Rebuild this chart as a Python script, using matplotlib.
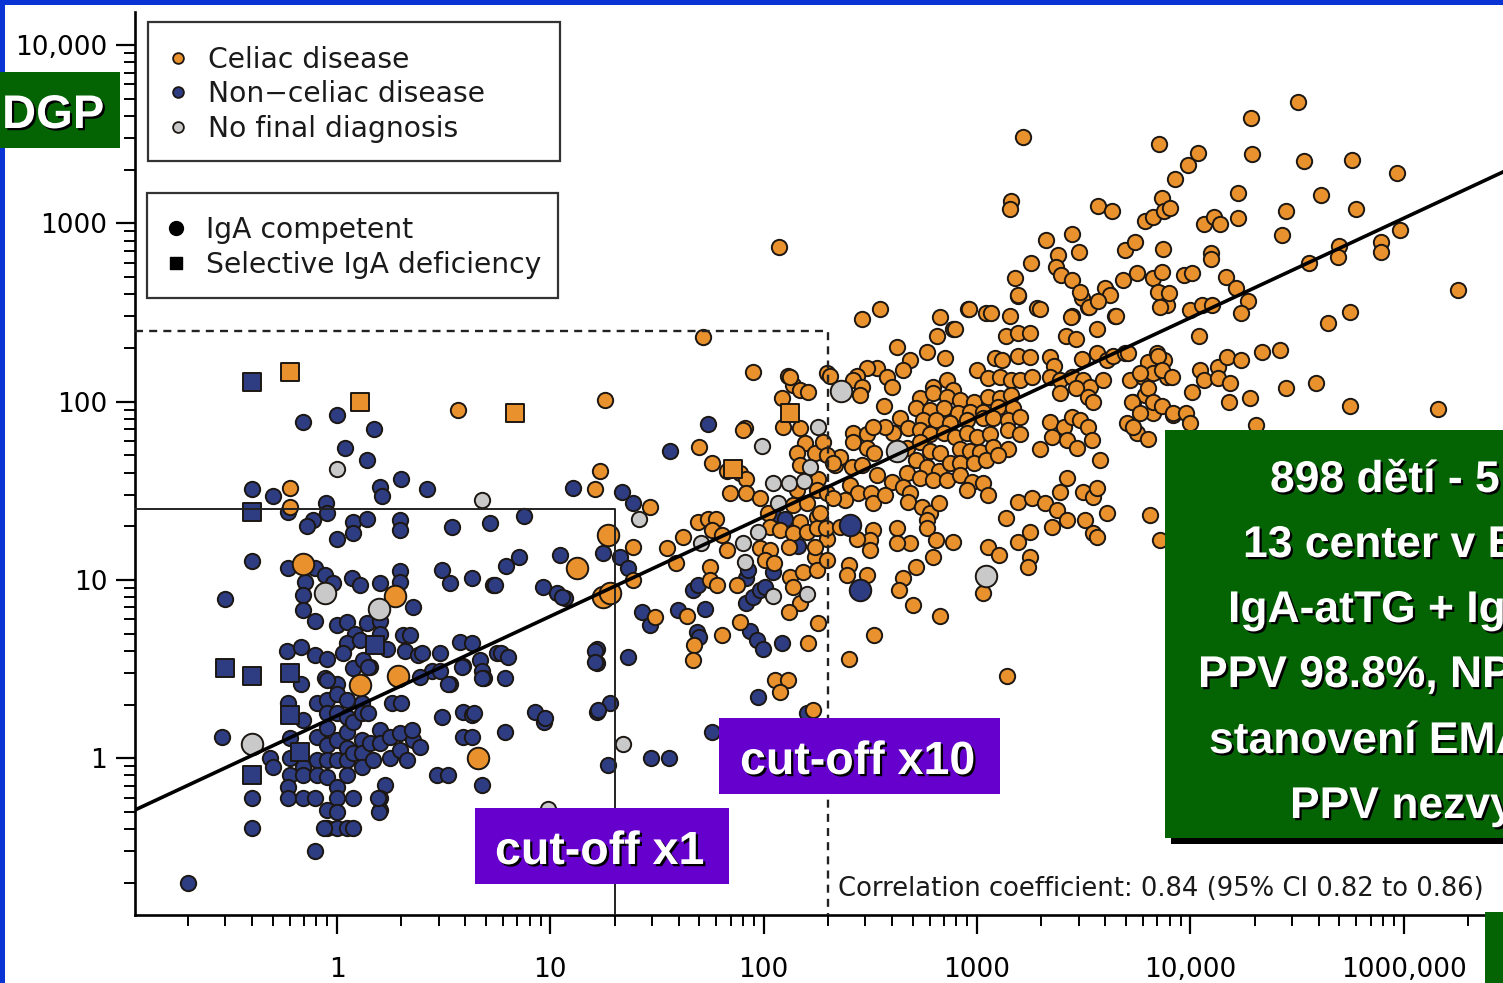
import numpy as np
import matplotlib
matplotlib.use("Agg")
import matplotlib.pyplot as plt
import matplotlib.patheffects as pe
from matplotlib.patches import Rectangle
from matplotlib.ticker import LogLocator, NullFormatter, FixedLocator, FixedFormatter

# ---- data (x = IgA-atTG, y = DGP) ----
celiac = [
    (0.60, 32.8), (0.60, 25.6), (3.7, 90), (18, 102), (52, 230),
    (17, 41), (16.2, 32.4), (29.3, 25.5), (24.5, 15.3), (24.5, 10), (35.2, 15.1), (42, 17.3),
    (39, 12.4), (49, 21), (55, 22), (60, 22), (57.5, 19), (64, 17.8), (67, 14.7), (56, 11.8),
    (56, 10), (60.5, 9.3), (75, 9.3), (50, 55.5), (82, 71), (89, 146), (130, 140), (137, 124),
    (148, 116), (161, 113), (122, 105), (123, 72), (148, 71), (157, 58.5), (190, 51.5),
    (174, 51.5), (217, 44), (143, 51.5), (148, 44), (180, 37), (178, 32), (198, 30.7), (143, 32),
    (137, 26.3), (160, 27), (178, 22.4), (148, 21.1), (105, 23.7), (107, 19.8), (119, 19),
    (137, 18.3), (160, 18.6), (178, 19.5), (198, 17), (96, 15), (107, 14.7), (131, 15.3),
    (101, 12.9), (112, 12.4), (133, 10.4), (153, 11), (174, 13.4), (178, 11.3), (198, 12.9),
    (174, 15.3), (57.5, 45), (67, 41), (77.5, 40), (83, 37), (69.6, 30.7), (83, 30.7), (96, 28.8),
    (137, 9.1), (148, 7.4), (131, 6.6), (180, 5.7), (77.5, 5.8), (64, 4.9), (47, 4.3), (46.5, 3.55),
    (31, 6.2), (43.5, 6.3), (161, 4.4), (113, 2.74), (130, 2.74), (119, 2.34), (170, 1.86),
    (198, 145), (80, 69), (118, 735), (133, 137),
    (290, 290), (351, 330), (671, 298), (773, 255), (905, 330), (1100, 312), (1430, 303),
    (1560, 390), (1900, 333), (2780, 300), (3300, 338), (3660, 255), (4450, 303), (4100, 405),
    (3100, 382), (7200, 405), (7800, 348), (650, 233), (1360, 233), (1560, 243), (1770, 243),
    (2600, 233), (2900, 224), (420, 202), (486, 171), (580, 189), (710, 176), (340, 154),
    (305, 154), (275, 140), (205, 140), (262, 132), (290, 121), (380, 137), (450, 150),
    (400, 121), (283, 109), (365, 95), (620, 120), (720, 132), (773, 116), (1000, 150),
    (1120, 136), (1210, 176), (1310, 171), (1560, 180), (1770, 177), (1280, 137), (1450, 132),
    (1590, 132), (1810, 137), (2200, 177), (2300, 158), (3100, 174), (3660, 187), (4050, 171),
    (4350, 180), (4950, 187), (6300, 167), (7000, 187), (7500, 171), (2200, 137), (2450, 132),
    (2800, 137), (3150, 132), (3390, 121), (3900, 132), (5200, 132), (6000, 137), (6700, 145),
    (7800, 137), (5400, 100), (6100, 109), (7000, 95), (6700, 86), (8300, 84), (541, 105),
    (620, 111), (720, 106), (833, 102), (970, 100), (1120, 106), (1280, 105), (1450, 109),
    (2450, 111), (2900, 119), (3300, 106), (3500, 100), (520, 92), (603, 90), (700, 92),
    (810, 86), (930, 87), (1070, 87), (1250, 93), (1470, 92), (560, 79), (640, 79), (748, 76),
    (900, 79), (1070, 81), (1190, 81), (1390, 79), (1590, 82), (436, 81), (475, 71), (405, 67),
    (370, 72), (262, 67), (305, 66), (325, 72), (541, 69), (603, 66), (700, 67), (790, 63),
    (900, 67), (1000, 63), (1150, 66), (1390, 69), (1590, 66), (2200, 77), (2550, 72),
    (2800, 82), (3050, 79), (3300, 72), (2250, 63), (2650, 61), (2950, 55), (3450, 61),
    (5050, 76), (5600, 67), (6300, 62), (1980, 54), (3780, 47), (262, 59), (305, 55),
    (330, 51.5), (228, 49), (258, 43), (290, 44), (190, 59), (198, 50), (212, 45), (470, 55),
    (541, 59), (603, 53), (671, 51.5), (833, 54.5), (929, 53), (1035, 52), (1190, 55.5),
    (1390, 54.5), (520, 47), (580, 43), (665, 41), (748, 45), (833, 45.5), (970, 45.5),
    (1100, 47), (1260, 50), (470, 39.5), (541, 37.5), (620, 36.3), (720, 36.3), (833, 38.6),
    (950, 35.4), (900, 32), (1070, 35), (1130, 30), (340, 38.6), (400, 35.4), (450, 33),
    (486, 30.6), (475, 27.2), (254, 34), (277, 30.6), (320, 30.6), (325, 27), (370, 29.8),
    (240, 28), (212, 28.8), (184, 23.7), (195, 19.5), (555, 25.5), (603, 23.7), (660, 27),
    (580, 21.6), (580, 19.5), (420, 19.5), (486, 16), (420, 16), (640, 16.7), (770, 16.3),
    (325, 19), (315, 16.7), (315, 14.7), (275, 17), (228, 19.8), (620, 13.4), (520, 11.8),
    (450, 10.2), (430, 8.75), (305, 10.6), (250, 12.1), (245, 10.6), (500, 7.2), (671, 6.3),
    (330, 4.9), (250, 3.6), (1380, 2.9), (1130, 15.3), (1270, 13.8), (1070, 8.4), (1560, 16.3),
    (1770, 18.6), (1770, 13.4), (1740, 11.8), (1360, 22.2), (1560, 27.2), (1810, 28.8),
    (2080, 27), (2380, 24.6), (2250, 19.8), (2650, 21.6), (3200, 21.6), (2450, 31), (2650, 37.5),
    (3150, 31), (3500, 29), (3660, 32.6), (4050, 23.7), (3500, 18.3), (6480, 23.2), (3660, 17.3),
    (7200, 16.7),
    (1650, 3050), (7100, 2800), (10800, 2490), (9700, 2120), (8500, 1770), (19300, 3880),
    (31800, 4800), (19500, 2450), (34000, 2240), (57000, 2260), (93000, 1920), (1450, 1340),
    (1420, 1200), (3700, 1250), (4300, 1170), (6100, 1030), (6650, 1090), (7400, 1380),
    (7550, 1170), (8050, 1210), (11600, 990), (12900, 1090), (13800, 990), (16800, 1480),
    (16800, 1070), (28000, 1170), (27000, 860), (41000, 1440), (60000, 1200), (96000, 915),
    (78000, 780), (78000, 690), (50000, 750), (49000, 645), (36000, 600), (180000, 425),
    (2100, 805), (2780, 865), (3000, 690), (2400, 660), (2350, 570), (2480, 515), (2780, 480),
    (3050, 410), (1800, 600), (1500, 495), (1550, 395), (915, 330), (1160, 312), (1980, 330),
    (4950, 705), (5500, 780), (7450, 715), (12500, 680), (12500, 630), (4000, 435), (4200, 395),
    (4850, 480), (5650, 525), (6700, 490), (7400, 530), (7050, 410), (7200, 340), (7950, 405),
    (9300, 510), (10200, 525), (14700, 500), (16400, 435), (18600, 365), (17200, 315),
    (10000, 328), (11300, 350), (12600, 350), (3350, 338), (3700, 365), (2750, 298), (4500, 303),
    (790, 255), (11000, 234), (44000, 275), (56000, 318), (21600, 190), (26400, 194),
    (28000, 119), (39000, 127), (56000, 94), (144000, 91), (19100, 105), (15200, 100),
    (20300, 74), (5100, 187), (7050, 180), (7400, 150), (8200, 137), (11100, 150), (11600, 132),
    (13500, 156), (14800, 177), (17200, 172), (10200, 113), (13500, 135), (15300, 127),
    (5800, 145), (6300, 119), (6650, 100), (7400, 94), (5300, 99), (5800, 86), (8300, 86),
    (9500, 86), (10000, 76), (5400, 72),
]
celiac_large = [(0.69, 12.3), (1.87, 8.1), (1.28, 2.57), (1.93, 2.9), (4.6, 1.0),
                (13.3, 11.6), (18.6, 17.8), (17.7, 8.0), (19, 8.4)]

non_celiac = [
    (0.69, 77), (1.0, 84), (1.49, 70), (1.09, 55), (1.38, 47), (0.40, 32.5), (0.50, 29.5),
    (0.89, 27), (1.59, 33), (1.62, 29.5), (1.99, 37), (2.64, 32.4), (0.59, 24), (0.77, 21.6),
    (0.72, 20), (0.90, 23.7), (1.19, 21), (1.38, 22), (1.19, 18.3), (1.0, 16.9), (1.97, 21.6),
    (1.97, 19), (3.45, 19.8), (5.2, 20.8), (0.40, 12.7), (0.59, 11.6), (0.79, 11.6), (0.71, 9.7),
    (0.88, 10.6), (0.96, 9.6), (1.18, 10.3), (1.28, 9.3), (1.59, 9.6), (1.97, 11.2), (1.97, 9.7),
    (3.1, 11.3), (3.39, 9.6), (4.3, 10.2), (5.4, 9.3), (0.30, 7.8), (0.69, 8.2), (0.69, 6.8),
    (0.79, 5.9), (1.0, 5.6), (1.11, 5.8), (1.21, 5.0), (1.38, 5.7), (1.59, 5.9), (1.59, 5.0),
    (2.27, 7.0), (2.04, 4.9), (2.2, 4.9), (1.11, 4.4), (1.28, 4.6), (0.58, 4.0), (0.68, 4.2),
    (0.79, 3.8), (0.90, 3.6), (1.07, 3.9), (1.72, 4.1), (2.08, 4.0), (2.4, 3.8), (3.04, 3.9),
    (3.77, 4.5), (4.3, 4.4), (5.6, 3.9), (4.68, 3.55), (4.8, 3.1), (3.9, 3.3), (2.8, 3.1),
    (3.39, 2.6), (4.9, 2.8), (0.68, 2.6), (0.88, 2.8), (1.0, 2.6), (1.19, 3.2), (1.32, 3.55),
    (1.43, 3.25), (0.29, 1.31), (0.40, 0.60), (0.40, 0.405), (0.79, 0.30), (0.20, 0.20),
    (0.485, 1.0), (0.50, 0.89), (0.59, 2.03), (0.60, 1.30), (0.60, 1.0), (0.60, 0.80),
    (0.59, 0.69), (0.59, 0.60), (0.69, 0.60), (0.79, 0.60), (0.69, 1.63), (0.69, 0.89),
    (0.69, 0.80), (0.81, 2.03), (0.81, 1.31), (0.81, 0.975), (0.81, 0.80), (0.90, 2.74),
    (0.90, 2.12), (0.90, 1.79), (0.90, 1.47), (0.90, 1.18), (0.90, 0.975), (0.90, 0.78),
    (0.90, 0.51), (0.90, 0.405), (1.0, 2.3), (1.0, 1.79), (1.0, 1.26), (1.0, 0.975), (1.0, 0.69),
    (1.0, 0.60), (1.0, 0.50), (1.0, 0.405), (1.11, 2.12), (1.11, 1.70), (1.11, 1.40), (1.11, 1.14),
    (1.11, 0.975), (1.11, 0.80), (1.11, 0.405), (1.19, 0.405), (1.19, 1.59), (1.19, 1.07),
    (1.19, 0.60), (1.31, 2.03), (1.31, 1.79), (1.31, 1.26), (1.31, 1.07), (1.31, 0.89),
    (1.40, 1.79), (1.43, 1.21), (1.48, 0.975), (1.59, 1.44), (1.59, 1.21), (1.68, 0.71),
    (1.59, 0.60), (1.59, 0.51), (1.77, 1.31), (1.77, 1.0), (1.81, 2.03), (2.0, 2.03), (1.97, 1.38),
    (1.97, 1.11), (2.13, 0.975), (2.27, 1.26), (2.45, 1.15), (2.25, 1.44), (2.45, 2.85),
    (3.1, 1.70), (3.3, 2.6), (3.9, 1.81), (4.3, 1.75), (3.9, 1.31), (4.3, 1.31), (6.1, 1.40),
    (6.1, 2.8), (4.8, 2.8), (8.5, 1.81), (9.3, 1.59), (2.95, 0.80), (3.3, 0.80), (4.8, 0.71),
    (16.5, 3.4), (16.5, 1.81), (19, 2.03), (18.6, 0.91), (1.40, 3.25), (1.57, 0.50), (1.56, 0.60),
    (0.87, 0.405), (29.6, 1.0), (35.8, 1.0), (57, 1.4), (94, 2.2), (12.8, 32.7), (7.5, 22.8),
    (5.5, 9.3), (6.2, 12), (7.1, 13.4), (11.1, 13.8), (17.7, 14.2), (9.2, 9.1), (10.7, 8.4),
    (11.7, 7.9), (2.5, 3.9), (5.9, 3.9), (6.3, 3.7), (3.85, 3.25), (3.04, 3.1), (16.5, 4.1),
    (9.4, 1.67), (4.4, 1.79), (55, 75), (36.4, 53), (21.7, 31), (24.5, 27), (21.2, 13.4),
    (23, 11.6), (11.4, 8.0), (16.2, 4.0), (16.2, 3.45), (23, 3.7), (16.7, 1.86), (26.8, 6.6),
    (29.3, 5.6), (39.7, 6.8), (53, 6.9), (46.5, 8.75), (49, 9.3), (48.5, 5.1), (50, 4.8),
    (83, 10.2), (84, 11.3), (83, 7.4), (89, 8.0), (96, 8.75), (101, 9.1), (110, 11), (111, 23),
    (126, 22), (145, 15.5), (86, 5.2), (93, 4.6), (99, 4.1), (122, 4.4), (159, 1.79),
]
non_celiac_large = [(254, 20.2), (283, 8.75)]

no_diagnosis = [(1.0, 42), (4.8, 28), (26, 22), (22, 1.2), (9.8, 0.52), (51, 16), (80, 16),
                (94, 18.5), (98, 56), (110, 35), (132, 35), (155, 36), (165, 43), (180, 72),
                (117, 27), (82, 12.6), (110, 8.1), (160, 8.3)]
no_diagnosis_large = [(0.40, 1.2), (0.88, 8.4), (1.57, 6.9), (230, 115), (420, 53), (1100, 10.5)]

# selective IgA deficiency (squares)
celiac_iga_def = [(0.60, 146), (1.28, 99), (6.8, 86), (72, 42), (133, 86)]
non_celiac_iga_def = [(0.40, 128), (0.40, 24), (0.30, 3.2), (0.40, 2.9), (0.60, 3.0),
                      (0.60, 1.74), (0.67, 1.08), (0.40, 0.80), (1.5, 4.3)]

# regression line log10(y) = a + b*log10(x)
fit_a, fit_b = 0.238, 0.558
cutoff_x1 = (20, 25)
cutoff_x10 = (200, 250)

x_ticks = [1, 10, 100, 1000, 10000, 100000]
x_labels = ["1", "10", "100", "1000", "10,000", "1000,000"]
y_ticks = [1, 10, 100, 1000, 10000]
y_labels = ["1", "10", "100", "1000", "10,000"]

corr_text = "Correlation coefficient: 0.84 (95% CI 0.82 to 0.86)"
legend_dx = ["Celiac disease", "Non\u2212celiac disease", "No final diagnosis"]
legend_iga = ["IgA competent", "Selective IgA deficiency"]
box_lines = ["898 dětí - 5", "13 center v E", "IgA-atTG + Ig", "PPV 98.8%, NP",
             "stanovení EMA", "PPV nezvy"]

ORANGE = "#E8912D"
NAVY = "#2E3C82"
GREY = "#C9C9C9"
EDGE = "#1c1712"

W, H = 1503, 983
fig = plt.figure(figsize=(W / 100, H / 100), dpi=100, facecolor="white")

ax = fig.add_axes([135 / W, (H - 915) / H, (W - 135) / W, (915 - 12) / H])
ax.set_xscale("log")
ax.set_yscale("log")
xlo, xhi = 0.113, 2.92e5
ylo, yhi = 0.132, 1.53e4
ax.set_xlim(xlo, xhi)
ax.set_ylim(ylo, yhi)
ax.patch.set_alpha(0)
for s in ["top", "right"]:
    ax.spines[s].set_visible(False)
for s in ["left", "bottom"]:
    ax.spines[s].set_linewidth(1.9)


def scat(pts, marker="o", color=ORANGE, s=122, z=3):
    xs = [p[0] for p in pts]
    ys = [p[1] for p in pts]
    ax.scatter(xs, ys, s=s, marker=marker, c=color, edgecolors=EDGE, linewidths=1.4, zorder=z)


scat(non_celiac, color=NAVY)
scat(celiac, color=ORANGE)
scat(no_diagnosis, color=GREY)
scat(celiac_large, color=ORANGE, s=240)
scat(non_celiac_large, color=NAVY, s=240)
scat(no_diagnosis_large, color=GREY, s=240)
scat(non_celiac_iga_def, marker="s", color=NAVY, s=150)
scat(celiac_iga_def, marker="s", color=ORANGE, s=150)

lx = np.logspace(np.log10(xlo), np.log10(xhi), 100)
ax.plot(lx, 10 ** (fit_a + fit_b * np.log10(lx)), color="black", lw=2.6, zorder=6)

ax.plot([xlo, cutoff_x1[0], cutoff_x1[0]], [cutoff_x1[1], cutoff_x1[1], ylo],
        color="#222222", lw=1.4, zorder=5)
ax.plot([xlo, cutoff_x10[0], cutoff_x10[0]], [cutoff_x10[1], cutoff_x10[1], ylo],
        color="#222222", lw=1.7, dashes=(3.4, 2.6), zorder=5)

ax.xaxis.set_major_locator(FixedLocator(x_ticks))
ax.xaxis.set_major_formatter(FixedFormatter(x_labels))
ax.yaxis.set_major_locator(FixedLocator(y_ticks))
ax.yaxis.set_major_formatter(FixedFormatter(y_labels))
for a in (ax.xaxis, ax.yaxis):
    a.set_minor_locator(LogLocator(base=10, subs=np.arange(2, 10), numticks=30))
    a.set_minor_formatter(NullFormatter())
ax.tick_params(which="major", length=14, width=1.6, direction="out", labelsize=19)
ax.tick_params(which="minor", length=8, width=1.4, direction="out")
ax.tick_params(axis="y", pad=6)
ax.tick_params(axis="x", pad=16)

# ---- overlay in pixel space: legends, notes and slide boxes ----
ov = fig.add_axes([0, 0, 1, 1])
ov.set_xlim(0, W)
ov.set_ylim(H, 0)
ov.axis("off")
ov.patch.set_alpha(0)
ov.set_zorder(10)

ov.add_patch(Rectangle((148, 22), 412, 139, fill=False, ec="#333333", lw=1.6))
ov.add_patch(Rectangle((147, 193), 411, 105, fill=False, ec="#333333", lw=1.6))
for lab, col, yy in zip(legend_dx, [ORANGE, NAVY, GREY], [58, 92, 127]):
    ov.scatter([178], [yy], s=60, c=col, edgecolors=EDGE, linewidths=1.3)
    ov.text(208, yy + 10, lab, fontsize=20.3, va="baseline", ha="left", color="#1a1a1a")
ov.scatter([176], [228], s=100, c="black", marker="o")
ov.scatter([176], [263], s=85, c="black", marker="s")
for lab, yy in zip(legend_iga, [228, 263]):
    ov.text(206, yy + 10, lab, fontsize=20.3, va="baseline", ha="left", color="#1a1a1a")

ov.text(838, 896, corr_text, fontsize=18.6, va="baseline", ha="left", color="#1a1a1a")

# slide decoration
BLUE = "#0A33D6"
GREEN = "#046404"
PURPLE = "#6600CC"
ov.add_patch(Rectangle((0, 0), 5, H, color=BLUE, lw=0))
ov.add_patch(Rectangle((0, 0), W, 5, color=BLUE, lw=0))

shadow = [pe.withSimplePatchShadow(offset=(1.6, -1.6), shadow_rgbFace="black", alpha=1.0)]
bold = dict(color="white", fontweight="bold", family=["Liberation Sans", "DejaVu Sans"],
            path_effects=shadow, va="baseline")

ov.add_patch(Rectangle((0, 72), 120, 76, color=GREEN, lw=0))
ov.text(2, 128, "DGP", fontsize=34, ha="left", **bold)

ov.add_patch(Rectangle((719, 718), 281, 76, color=PURPLE, lw=0))
ov.text(740, 774, "cut-off x10", fontsize=33.5, ha="left", **bold)
ov.add_patch(Rectangle((475, 808), 254, 76, color=PURPLE, lw=0))
ov.text(495, 864, "cut-off x1", fontsize=33.5, ha="left", **bold)

ov.add_patch(Rectangle((1171, 436), 340, 408, color="black", lw=0))
ov.add_patch(Rectangle((1165, 430), 340, 408, color=GREEN, lw=0))
for txt, x0, yb in zip(box_lines, [1270, 1243, 1228, 1198, 1209, 1290],
                       [492, 557, 622, 687, 753, 818]):
    ov.text(x0, yb, txt, fontsize=32, ha="left", **bold)
ov.add_patch(Rectangle((1485, 912), 20, 75, color=GREEN, lw=0))

fig.savefig("out.png", dpi=100, facecolor="white")
